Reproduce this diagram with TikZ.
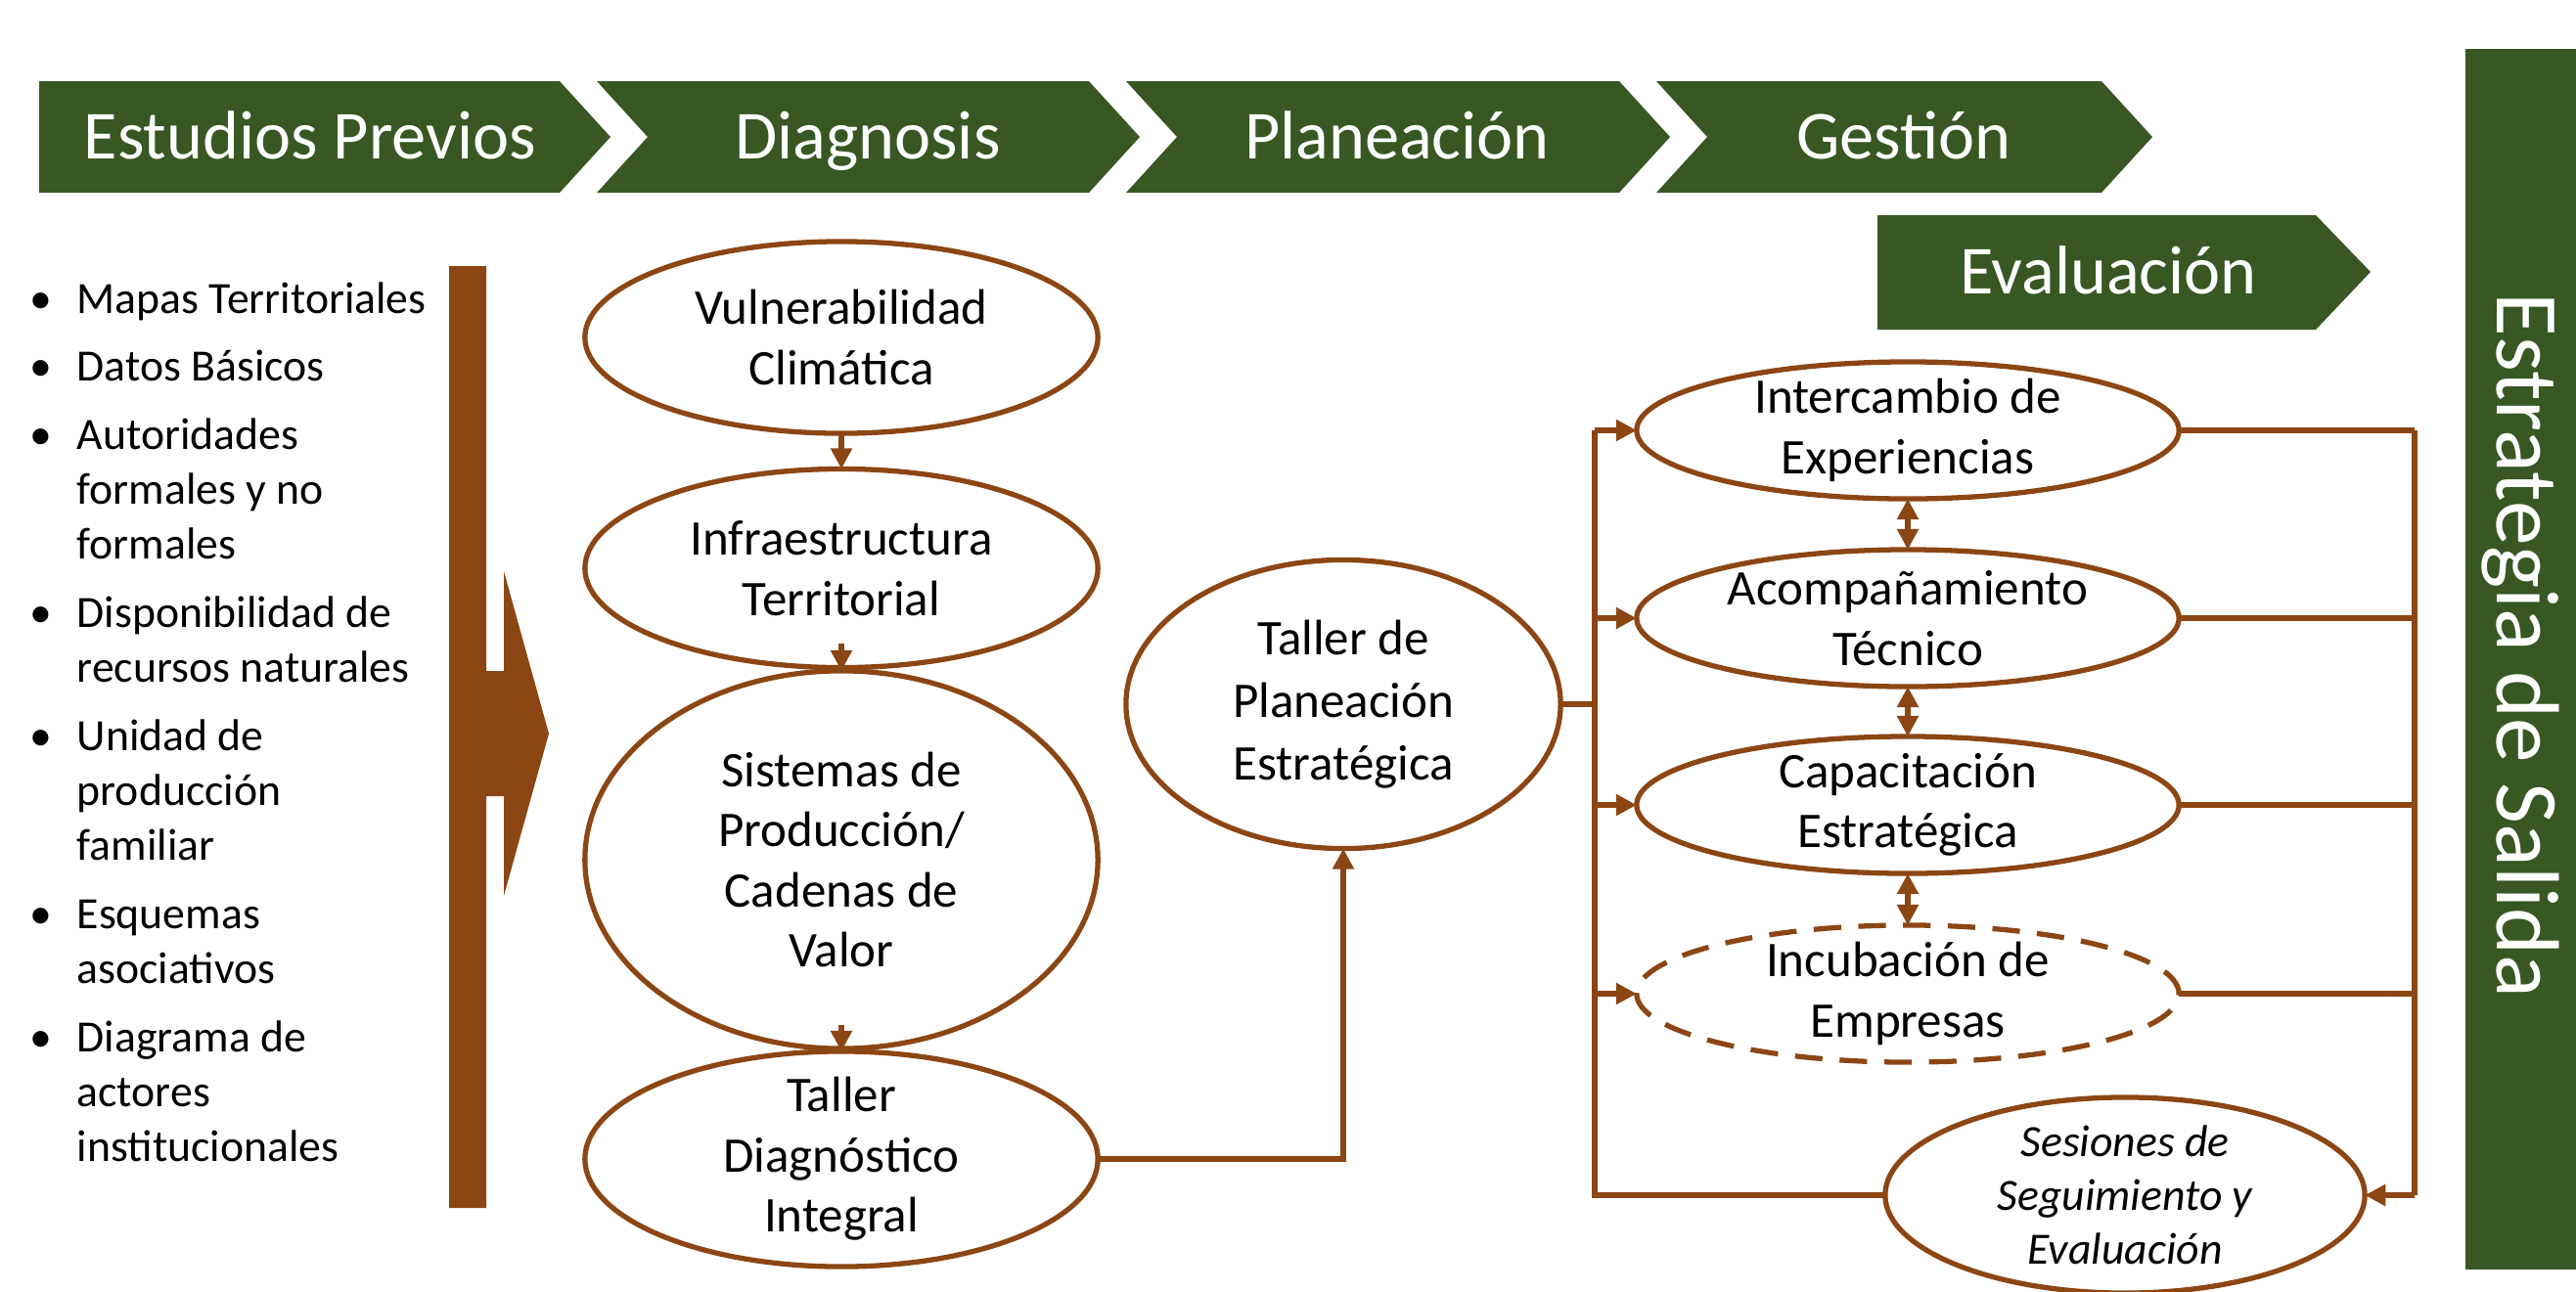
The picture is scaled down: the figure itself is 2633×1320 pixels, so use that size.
\documentclass[tikz,border=0pt]{standalone}
\usepackage{fontspec}
\setmainfont{Carlito}
\usetikzlibrary{arrows.meta}
\usetikzlibrary{shapes.geometric}
\tikzset{>={Triangle[length=6pt,width=6pt]}}
\definecolor{leaf}{RGB}{56,87,35}
\definecolor{bark}{RGB}{140,70,20}
\tikzset{
  stage/.style={ellipse, draw=bark, line width=1.5pt, fill=white, align=center,
    inner sep=-5pt, outer sep=0pt, font=\fontsize{14.5}{17.5}\selectfont},
  task/.style={stage, minimum width=5.54cm, minimum height=1.40cm},
  flow/.style={draw=bark, line width=1.5pt},
  banner/.style={text=white, font=\fontsize{20}{24}\selectfont,
    text height=13pt, text depth=0pt, inner sep=0pt},
}

\begin{document}
\begin{tikzpicture}[x=0.01cm, y=-0.01cm]
  \useasboundingbox (0,0) rectangle (2633,1320);
  % phases
  \fill[leaf] (40,83) -- (572,83) -- (624,140) -- (572,197) -- (40,197) -- cycle;
  \fill[leaf] (610,83) -- (1113,83) -- (1165,140) -- (1113,197) -- (610,197) -- (662,140) -- cycle;
  \fill[leaf] (1151,83) -- (1655,83) -- (1707,140) -- (1655,197) -- (1151,197) -- (1203,140) -- cycle;
  \fill[leaf] (1693,83) -- (2148,83) -- (2200,140) -- (2148,197) -- (1693,197) -- (1745,140) -- cycle;
  \fill[leaf] (1919,220) -- (2367,220) -- (2423,278) -- (2367,337) -- (1919,337) -- cycle;
  \node[banner] (estudios) at (317,140) {Estudios Previos};
  \node[banner] (diagnosis) at (887,140) {Diagnosis};
  \node[banner] (planeacion) at (1428,140) {Planeación};
  \node[banner] (gestion) at (1946,140) {Gestión};
  \node[banner] (evaluacion) at (2155,278) {Evaluación};
  % exit strategy
  \fill[leaf] (2520,50) rectangle (2633,1298);
  \node[rotate=-90, text=white, font=\fontsize{26}{30}\selectfont] (salida) at (2576,660) {Estrategia de Salida};
  % previous studies
  \node[anchor=base west, inner sep=0pt, font=\fontsize{13}{15.9}\selectfont] (previos) at (30,320) {%
    \begin{tabular}[t]{@{}p{0.48cm}@{}l@{}}
      \textbullet & Mapas Territoriales\\[4pt]
      \textbullet & Datos Básicos\\[4pt]
      \textbullet & Autoridades\\ & formales y no\\ & formales\\[4pt]
      \textbullet & Disponibilidad de\\ & recursos naturales\\[4pt]
      \textbullet & Unidad de\\ & producción\\ & familiar\\[4pt]
      \textbullet & Esquemas\\ & asociativos\\[4pt]
      \textbullet & Diagrama de\\ & actores\\ & institucionales
    \end{tabular}};
  \fill[bark] (459,272) -- (497,272) -- (497,686) -- (515,686) -- (515,584) -- (561,750)
    -- (515,916) -- (515,814) -- (497,814) -- (497,1235) -- (459,1235) -- cycle;
  % diagnosis
  \node[stage, minimum width=5.24cm, minimum height=1.96cm] (vulner) at (860,345) {Vulnerabilidad\\Climática};
  \node[stage, minimum width=5.24cm, minimum height=2.03cm] (infra) at (860,581) {Infraestructura\\Territorial};
  \node[stage, minimum width=5.24cm, minimum height=3.86cm] (sistemas) at (860,879) {Sistemas de\\Producción/\\Cadenas de\\Valor};
  \node[stage, minimum width=5.24cm, minimum height=2.20cm] (tallerdiag) at (860,1185) {Taller\\Diagnóstico\\Integral};
  \draw[flow, ->] (vulner) -- (infra);
  \draw[flow, ->] ([yshift=7pt]infra.south) -- (sistemas.north);
  \draw[flow, ->] ([yshift=7pt]sistemas.south) -- (tallerdiag.north);
  % planning
  \node[stage, minimum width=4.44cm, minimum height=2.95cm,
    font=\fontsize{14.5}{18.2}\selectfont] (tallerplan) at (1373,720) {Taller de\\Planeación\\Estratégica};
  \draw[flow, ->] (tallerdiag.east) -| (tallerplan.south);
  % management
  \node[task] (intercambio) at (1950,440) {Intercambio de\\Experiencias};
  \node[task] (acompana) at (1950,632) {Acompañamiento\\Técnico};
  \node[task] (capacita) at (1950,823) {Capacitación\\Estratégica};
  \node[task, dashed, dash pattern=on 8pt off 5pt] (incuba) at (1950,1016) {Incubación de\\Empresas};
  \node[stage, minimum width=4.9cm, minimum height=2.0cm,
    font=\fontsize{13}{15.6}\selectfont\itshape] (sesiones) at (2172,1222) {Sesiones de\\Seguimiento y\\Evaluación};
  \draw[flow, <->] (intercambio) -- (acompana);
  \draw[flow, <->] (acompana) -- (capacita);
  \draw[flow, <->] (capacita) -- (incuba);
  % buses
  \coordinate (busl) at (1630,720);
  \coordinate (busr) at (2468,720);
  \draw[flow] (tallerplan.east) -- (tallerplan.east -| busl);
  \draw[flow] (intercambio.west -| busl) -- (sesiones.west -| busl) -- (sesiones.west);
  \foreach \n in {intercambio, acompana, capacita, incuba}
    \draw[flow, ->] (\n.west -| busl) -- (\n.west);
  \foreach \n in {intercambio, acompana, capacita, incuba}
    \draw[flow] (\n.east) -- (\n.east -| busr);
  \draw[flow] (intercambio.east -| busr) -- (sesiones.east -| busr);
  \draw[flow, ->] (sesiones.east -| busr) -- (sesiones.east);
\end{tikzpicture}
\end{document}
